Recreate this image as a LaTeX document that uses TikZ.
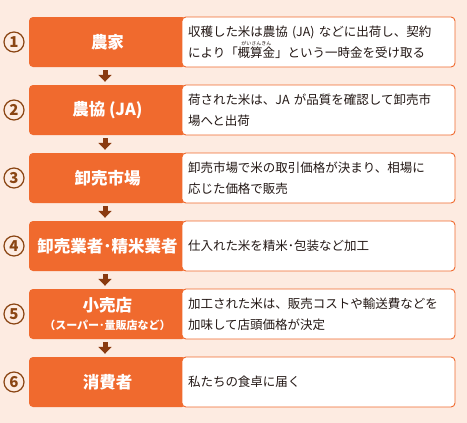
\documentclass[tikz,border=0pt]{standalone}
\usepackage{fontspec}
\setmainfont{Noto Sans CJK JP}
\usetikzlibrary{arrows.meta}
\definecolor{bgpeach}{HTML}{FDEBE1}
\definecolor{riceorange}{HTML}{F06A2E}
\definecolor{arrowbrown}{HTML}{8A3A10}
\definecolor{numbrown}{HTML}{8A4513}
\definecolor{txtblack}{HTML}{231815}
\newcommand{\furigana}[2]{\setbox0\hbox{#1}\rlap{\smash{\raisebox{0.95em}{\hbox to \wd0{\hss\fontsize{5}{5}\selectfont #2\hss}}}}#1}

\begin{document}
\begin{tikzpicture}[x=1pt,y=-1pt,
  labelbox/.style={fill=riceorange,rounded corners=4pt,minimum width=157pt,minimum height=50pt,inner xsep=1pt,text=white,font=\fontsize{16.5}{18}\selectfont\bfseries,align=center},
  textbox/.style={draw=riceorange,line width=0.9pt,fill=white,rounded corners=4pt,minimum height=50pt,text width=261pt,inner xsep=6pt,align=left,text=txtblack,font=\fontsize{12.5}{21}\selectfont},
  numcircle/.style={circle,draw=numbrown,line width=1.2pt,minimum size=20pt,inner sep=0pt,text=numbrown,font=\fontsize{15}{15}\selectfont\bfseries},
  flowarrow/.style={draw=arrowbrown,line width=5pt,-{Triangle[width=13pt,length=7pt]},shorten <=3pt,shorten >=3pt}]
\fill[bgpeach] (0,0) rectangle (467,423);
\foreach \i/\lab/\txt in {
  1/農家/{収穫した米は農協 (JA) などに出荷し、契約\\により「\furigana{概算金}{がいさんきん}」という一時金を受け取る},
  2/農協 (JA)/{荷された米は、JA が品質を確認して卸売市\\場へと出荷},
  3/卸売市場/{卸売市場で米の取引価格が決まり、相場に\\応じた価格で販売},
  4/卸売業者･精米業者/{仕入れた米を精米･包装など加工},
  5/{小売店\\{\fontsize{11}{13}\selectfont （スーパー･量販店など）}}/{加工された米は、販売コストや輸送費などを\\加味して店頭価格が決定},
  6/消費者/{私たちの食卓に届く}}{
  \node[labelbox] (l\i) at (107.5,{42+68*(\i-1)}) {\lab};
  \node[textbox] (t\i) at (318.5,{42+68*(\i-1)}) {\txt};
  \node[numcircle] (n\i) at (14,{42+68*(\i-1)}) {\i};
}
\foreach \i [evaluate=\i as \j using int(\i+1)] in {1,...,5}
  \draw[flowarrow] ([xshift=-2.5pt]l\i.south) -- ([xshift=-2.5pt]l\j.north);
\end{tikzpicture}
\end{document}
